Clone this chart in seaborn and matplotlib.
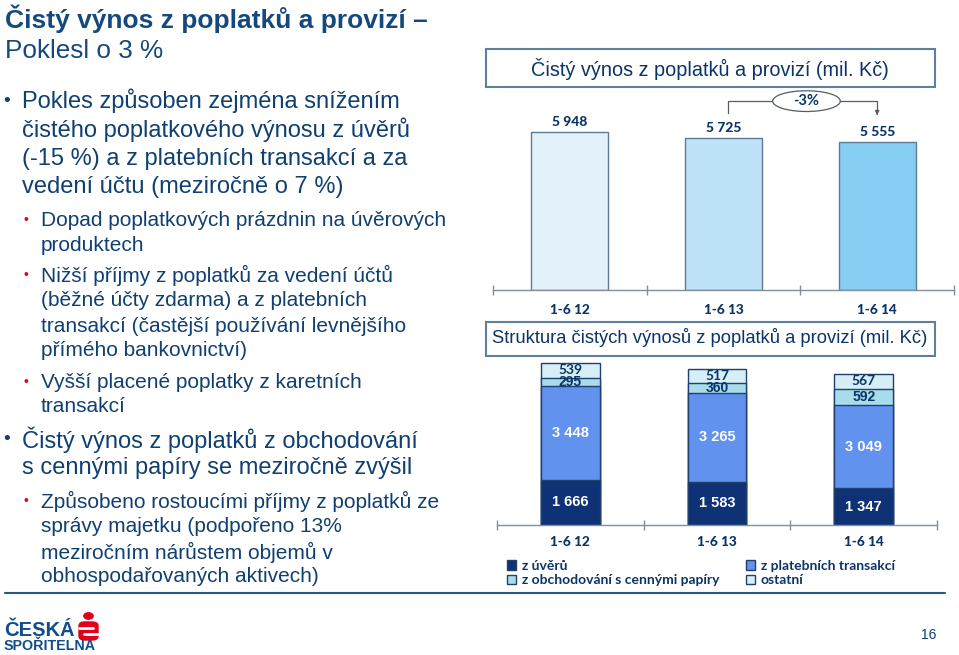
import matplotlib
matplotlib.use("Agg")
import matplotlib.pyplot as plt
import matplotlib.patches as mpatches
from matplotlib.lines import Line2D
import seaborn as sns
import pandas as pd
import numpy as np

# ---------------- data ----------------
periods = ["1-6 12", "1-6 13", "1-6 14"]
total_income = [5948, 5725, 5555]
seg_uvery = [1666, 1583, 1347]
seg_platebni = [3448, 3265, 3049]
seg_obchod = [295, 360, 592]
seg_ostatni = [539, 517, 567]
seg_names = ["z úvěrů", "z platebních transakcí",
             "z obchodování s cennými papíry", "ostatní"]
change_label = "-3%"

top_title = "Čistý výnos z poplatků a provizí (mil. Kč)"
bottom_title = "Struktura čistých výnosů z poplatků a provizí (mil. Kč)"

# ---------------- style ----------------
sns.set_theme(style="white")
plt.rcParams["font.family"] = ["Liberation Sans", "DejaVu Sans"]

W, H = 959, 655
fig = plt.figure(figsize=(W / 100, H / 100), dpi=100)
fig.patch.set_facecolor("white")

NAVY = "#0B3468"
TEXT = "#0F4071"
RED = "#E2001A"
LABEL_FONT = ["Lato", "DejaVu Sans"]


def fx(x):
    return x / W


def fy(y):
    return 1 - y / H


def fmt(v):
    return f"{v:,}".replace(",", " ")


# ---------------- left text ----------------
fig.text(fx(5), fy(19), "Čistý výnos z poplatků a provizí –", fontsize=19,
         fontweight="bold", color="#14497F", va="center", ha="left")
fig.text(fx(5), fy(51), "Poklesl o 3 %", fontsize=18.8, color="#14497F",
         va="center", ha="left")

lines = [
    (1, True, "Pokles způsoben zejména snížením", 101),
    (1, False, "čistého poplatkového výnosu z úvěrů", 130),
    (1, False, "(-15 %) a z platebních transakcí a za", 159),
    (1, False, "vedení účtu (meziročně o 7 %)", 187),
    (2, True, "Dopad poplatkových prázdnin na úvěrových", 220),
    (2, False, "produktech", 245),
    (2, True, "Nižší příjmy z poplatků za vedení účtů", 275),
    (2, False, "(běžné účty zdarma) a z platebních", 301),
    (2, False, "transakcí (častější používání levnějšího", 326),
    (2, False, "přímého bankovnictví)", 351),
    (2, True, "Vyšší placené poplatky z karetních", 382),
    (2, False, "transakcí", 407),
    (1, True, "Čistý výnos z poplatků z obchodování", 440),
    (1, False, "s cennými papíry se meziročně zvýšil", 468),
    (2, True, "Způsobeno rostoucími příjmy z poplatků ze", 501),
    (2, False, "správy majetku (podpořeno 13%", 527),
    (2, False, "meziročním nárůstem objemů v", 552),
    (2, False, "obhospodařovaných aktivech)", 577),
]
for level, bullet, txt, y in lines:
    if level == 1:
        fig.text(fx(22), fy(y), txt, fontsize=17, color=TEXT, va="center")
        if bullet:
            fig.text(fx(3), fy(y), "•", fontsize=14, color=TEXT, va="center")
    else:
        fig.text(fx(41), fy(y), txt, fontsize=15, color=TEXT, va="center")
        if bullet:
            fig.text(fx(24), fy(y), "•", fontsize=10, color=RED, va="center")

# separator line
fig.add_artist(Line2D([fx(5), fx(945)], [fy(593), fy(593)], color="#2A5986",
                      lw=1.5))

# logo
fig.text(fx(4), fy(630), "ČESKÁ", fontsize=14.5, fontweight="heavy",
         color="#114C8C", va="center")
fig.text(fx(4), fy(646), "SPOŘITELNA", fontsize=10.3, fontweight="heavy",
         color="#114C8C", va="center")
fig.add_artist(mpatches.FancyBboxPatch((fx(79), fy(640)), fx(19), (640 - 622) / H,
                                       boxstyle="round,pad=0.0,rounding_size=0.006",
                                       transform=fig.transFigure, color=RED))
fig.add_artist(mpatches.Circle((fx(88.5), fy(616)), 3.2 / H, color=RED,
                               transform=fig.transFigure))
fig.add_artist(Line2D([fx(79), fx(93)], [fy(628), fy(628)], color="white", lw=2))
fig.add_artist(Line2D([fx(84), fx(98)], [fy(634), fy(634)], color="white", lw=2))

fig.text(fx(929), fy(635), "16", fontsize=10, color=TEXT, va="center",
         ha="center")

# ---------------- top chart ----------------
fig.add_artist(mpatches.Rectangle((fx(486), fy(87)), fx(935 - 486), (87 - 49) / H,
                                  transform=fig.transFigure, fill=False,
                                  edgecolor="#5E7F9E", lw=1.5))
fig.text(fx(710), fy(69), top_title, fontsize=14.3, color=NAVY,
         ha="center", va="center")

ax1 = fig.add_axes([fx(493), fy(290), fx(954 - 493), (290 - 90) / H])
df_top = pd.DataFrame({"period": periods, "value": total_income})
top_colors = ["#E3F1FB", "#BEE3F8", "#87CEF4"]
sns.barplot(data=df_top, x="period", y="value", hue="period",
            palette=top_colors, width=0.5, edgecolor="#5F7A92", linewidth=1,
            legend=False, saturation=1, ax=ax1)
ymax_top = 200 * 5948 / 158
ax1.set_ylim(0, ymax_top)
ax1.set_xlim(-0.5, 2.5)
for i, v in enumerate(total_income):
    ax1.text(i, v + 380, fmt(v), ha="center", va="center", fontsize=10,
             fontweight="black", color=NAVY, family=LABEL_FONT)

# -3 % bracket
y_top = 7110
y_start = 6660
y_end = 6580
ax1.plot([1.03, 1.03, 2.0, 2.0], [y_start, y_top, y_top, y_end + 150],
         color="#555E66", lw=0.9, clip_on=False)
ax1.annotate("", xy=(2.0, y_end), xytext=(2.0, y_end + 160),
             arrowprops=dict(arrowstyle="-|>", color="#555E66", lw=0.9,
                             mutation_scale=6), annotation_clip=False)
ell = mpatches.Ellipse((1.54, y_top), 0.44, 780, facecolor="white",
                       edgecolor="#555E66", lw=0.9, clip_on=False, zorder=5)
ax1.add_patch(ell)
ax1.text(1.54, y_top, change_label, ha="center", va="center", fontsize=10.5,
         fontweight="bold", color=NAVY, family=LABEL_FONT, zorder=6)

# ---------------- bottom chart ----------------
fig.add_artist(mpatches.Rectangle((fx(486), fy(356)), fx(935 - 486), (356 - 322) / H,
                                  transform=fig.transFigure, fill=False,
                                  edgecolor="#5E7F9E", lw=1.5))
fig.text(fx(710), fy(338), bottom_title, fontsize=13.2, color=NAVY,
         ha="center", va="center")

ax2 = fig.add_axes([fx(497), fy(525), fx(937 - 497), (525 - 358) / H])
seg_colors = ["#0E3275", "#6192EE", "#A9DCEB", "#D6EEF7"]
segs = [seg_uvery, seg_platebni, seg_obchod, seg_ostatni]
cums = np.cumsum(np.array(segs), axis=0)
for k in range(3, -1, -1):
    dfk = pd.DataFrame({"period": periods, "value": cums[k]})
    sns.barplot(data=dfk, x="period", y="value", color=seg_colors[k],
                width=0.4, edgecolor="#22406C", linewidth=1, ax=ax2,
                saturation=1)
ymax_bot = 167 * 5948 / 162
ax2.set_ylim(0, ymax_bot)
ax2.set_xlim(-0.5, 2.5)
label_colors = ["white", "white", NAVY, NAVY]
label_fonts = [["Liberation Sans"], ["Liberation Sans"], ["Liberation Sans"], LABEL_FONT]
for k in range(4):
    for i in range(3):
        base = cums[k - 1][i] if k > 0 else 0
        mid = base + segs[k][i] / 2
        ax2.text(i, mid, fmt(segs[k][i]), ha="center", va="center",
                 fontsize=10.5 if k < 2 else 10, fontweight="bold",
                 color=label_colors[k], family=label_fonts[k])

for ax in (ax1, ax2):
    sns.despine(ax=ax, left=True, top=True, right=True)
    ax.set_yticks([])
    ax.set_xlabel("")
    ax.set_ylabel("")
    ax.spines["bottom"].set_color("#8090A0")
    ax.spines["bottom"].set_linewidth(1)
    ax.set_xticks([0, 1, 2])
    ax.set_xticks([-0.5, 0.5, 1.5, 2.5], minor=True)
    ax.tick_params(axis="x", which="major", length=0)
    ax.tick_params(axis="x", which="minor", length=7, direction="inout",
                   color="#8090A0", width=1, bottom=True)
    ax.set_facecolor("none")
    ax.grid(False)

ax1.set_xticklabels(periods, fontsize=9.8, fontweight="black", color=NAVY,
                    family=LABEL_FONT)
ax1.tick_params(axis="x", which="major", pad=10)
ax2.set_xticklabels(periods, fontsize=9.8, fontweight="black", color=NAVY,
                    family=LABEL_FONT)
ax2.tick_params(axis="x", which="major", pad=8)

# legend
handles = [mpatches.Patch(facecolor=seg_colors[k], edgecolor="#22406C", lw=1,
                          label=seg_names[k]) for k in [0, 2, 1, 3]]
leg = fig.legend(handles=handles, ncol=2, loc="upper left",
                 bbox_to_anchor=(fx(494), fy(547)), frameon=False,
                 handlelength=0.7, handleheight=0.7, handletextpad=0.4,
                 columnspacing=1.9, labelspacing=0.2,
                 prop={"family": LABEL_FONT, "weight": "bold", "size": 10})
for t in leg.get_texts():
    t.set_color(NAVY)

fig.savefig("out.png", dpi=100)
